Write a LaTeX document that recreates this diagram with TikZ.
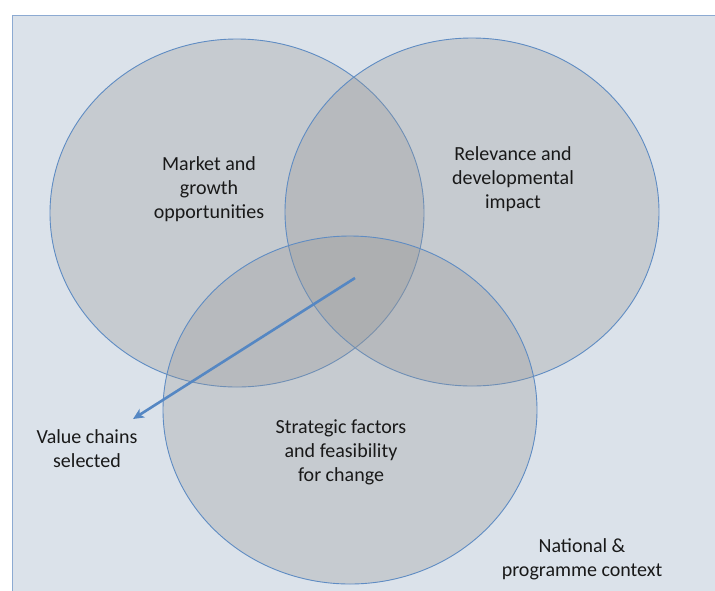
\documentclass[tikz,border=0pt]{standalone}
\usepackage{fontspec}
\setmainfont{Carlito}
\usetikzlibrary{shapes.geometric,arrows.meta}
\definecolor{bgfill}{RGB}{219,226,234}
\definecolor{bgline}{RGB}{140,170,210}
\definecolor{vennline}{RGB}{95,140,195}
\definecolor{vennfill}{RGB}{150,150,150}
\definecolor{arrowblue}{RGB}{85,135,195}
\definecolor{txt}{RGB}{25,25,25}
\tikzset{
  venn/.style={ellipse, draw=vennline, line width=0.9pt, fill=vennfill, fill opacity=0.3,
    minimum width=374pt, minimum height=348pt, inner sep=0pt},
  lbl/.style={align=center, text=txt, font=\fontsize{20}{24}\selectfont, inner sep=0pt},
  selarrow/.style={draw=arrowblue, line width=2.6pt, -{Stealth[length=11pt,width=10pt,inset=3pt]}}
}
\begin{document}
\begin{tikzpicture}[x=1pt,y=-1pt]
\useasboundingbox (0,0) rectangle (715,590);
\fill[white] (0,0) rectangle (715,590);
\clip (0,0) rectangle (715,590);
\draw[bgline, fill=bgfill, line width=0.9pt] (12,15) rectangle (730,610);
\node[venn] (market) at (237,213) {};
\node[venn] (relevance) at (472,212) {};
\node[venn] (strategic) at (350,410) {};
\node[lbl] (marketlbl) at (209,189) {Market and\\growth\\opportunities};
\node[lbl] (relevancelbl) at (513,179) {Relevance and\\developmental\\impact};
\node[lbl] (strategiclbl) at (341,452) {Strategic factors\\and feasibility\\for change};
\node[lbl] (valuelbl) at (87,449) {Value chains\\selected};
\node[lbl] (contextlbl) at (582,559) {National \&\\programme context};
\coordinate (arrowstart) at (355,278);
\coordinate (arrowend) at (133,419);
\draw[selarrow] (arrowstart) -- (arrowend);
\end{tikzpicture}
\end{document}
